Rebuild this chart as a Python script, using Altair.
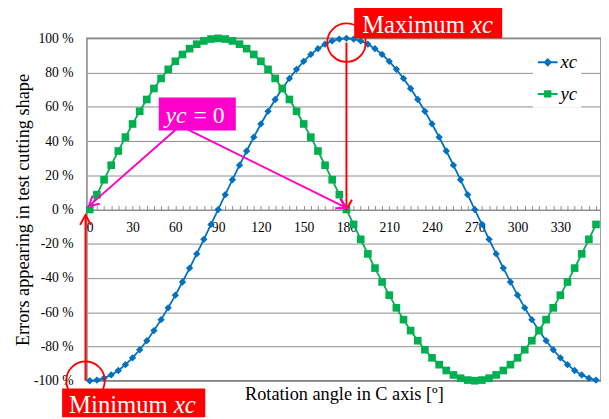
import math
import altair as alt
import pandas as pd

# ---------------- data ----------------
angles = [0, 5, 10, 15, 20, 25, 30, 35, 40, 45, 50, 55, 60, 65, 70, 75, 80, 85,
          90, 95, 100, 105, 110, 115, 120, 125, 130, 135, 140, 145, 150, 155, 160, 165, 170, 175,
          180, 185, 190, 195, 200, 205, 210, 215, 220, 225, 230, 235, 240, 245, 250, 255, 260, 265,
          270, 275, 280, 285, 290, 295, 300, 305, 310, 315, 320, 325, 330, 335, 340, 345, 350, 355]

xc_values = [-100.0, -99.6, -98.5, -96.6, -94.0, -90.6, -86.6, -81.9, -76.6, -70.7, -64.3, -57.4,
             -50.0, -42.3, -34.2, -25.9, -17.4, -8.7,
             0.0, 8.7, 17.4, 25.9, 34.2, 42.3, 50.0, 57.4, 64.3, 70.7, 76.6, 81.9,
             86.6, 90.6, 94.0, 96.6, 98.5, 99.6,
             100.0, 99.6, 98.5, 96.6, 94.0, 90.6, 86.6, 81.9, 76.6, 70.7, 64.3, 57.4,
             50.0, 42.3, 34.2, 25.9, 17.4, 8.7,
             0.0, -8.7, -17.4, -25.9, -34.2, -42.3, -50.0, -57.4, -64.3, -70.7, -76.6, -81.9,
             -86.6, -90.6, -94.0, -96.6, -98.5, -99.6]

yc_values = [0.0, 8.7, 17.4, 25.9, 34.2, 42.3, 50.0, 57.4, 64.3, 70.7, 76.6, 81.9,
             86.6, 90.6, 94.0, 96.6, 98.5, 99.6,
             100.0, 99.6, 98.5, 96.6, 94.0, 90.6, 86.6, 81.9, 76.6, 70.7, 64.3, 57.4,
             50.0, 42.3, 34.2, 25.9, 17.4, 8.7,
             0.0, -8.7, -17.4, -25.9, -34.2, -42.3, -50.0, -57.4, -64.3, -70.7, -76.6, -81.9,
             -86.6, -90.6, -94.0, -96.6, -98.5, -99.6,
             -100.0, -99.6, -98.5, -96.6, -94.0, -90.6, -86.6, -81.9, -76.6, -70.7, -64.3, -57.4,
             -50.0, -42.3, -34.2, -25.9, -17.4, -8.7]

series_names = ["xc", "yc"]
series_colors = ["#0070C0", "#00B050"]

y_ticks = [-100, -80, -60, -40, -20, 0, 20, 40, 60, 80, 100]
x_label_ticks = [0, 30, 60, 90, 120, 150, 180, 210, 240, 270, 300, 330]

# annotation boxes (data coordinates)
box_x1 = [185.4, -19.4, 48.4]
box_x2 = [289.2, 81.0, 102.4]
box_y1 = [100.0, -104.6, 46.2]
box_y2 = [117.9, -121.3, 65.4]
RED = "#FF0000"
MAGENTA = "#FF00CC"
box_colors = [RED, RED, MAGENTA]

# annotation texts
reg_text = ["Maximum", "Minimum", "= 0"]
reg_x = [191.0, -14.5, 72.7]
reg_y = [103.2, -119.0, 50.3]
ital_text = ["xc", "xc", "yc"]
ital_x = [267.4, 59.0, 53.1]
ital_y = [103.2, -119.0, 50.3]
text_sizes = [25, 25, 24]

# arrows
arr_x1 = [180.0, -3.0, 60.4, 68.5]
arr_y1 = [97.5, -100.0, 46.8, 46.8]
arr_x2 = [180.0, -3.0, -0.7, 180.0]
arr_y2 = [0.0, -3.2, 2.0, 1.0]
arr_colors = [RED, RED, MAGENTA, MAGENTA]

circle_x = [180.0, -3.0]
circle_y = [97.5, -100.0]

# ---------------- layout ----------------
X_MIN, X_MAX = -2.0, 358.5
W, H = 521, 347
kx = W / (X_MAX - X_MIN)
ky = H / 200.0
zero_px = H / 2.0
FONT = "Liberation Serif"
GRID = "#8c8c8c"

n = len(angles)
df = pd.DataFrame({
    "angle": angles + angles,
    "value": xc_values + yc_values,
    "series": ["xc"] * n + ["yc"] * n,
})

boxes = pd.DataFrame({"x1": box_x1, "x2": box_x2, "y1": box_y1, "y2": box_y2, "color": box_colors})
reg_df = pd.DataFrame({"x": reg_x, "y": reg_y, "label": reg_text, "size": text_sizes})
ital_df = pd.DataFrame({"x": ital_x, "y": ital_y, "label": ital_text, "size": text_sizes})
arr_df = pd.DataFrame({"x1": arr_x1, "y1": arr_y1, "x2": arr_x2, "y2": arr_y2, "color": arr_colors})
heads = []
for a, b, c, d in zip(arr_x1, arr_y1, arr_x2, arr_y2):
    dx = (c - a) * kx
    dy = -(d - b) * ky
    heads.append(math.degrees(math.atan2(dx, -dy)) % 360)
arr_df["angle"] = heads
circ_df = pd.DataFrame({"x": circle_x, "y": circle_y})
legend_df = pd.DataFrame({"series": series_names})

xscale = alt.Scale(domain=[X_MIN, X_MAX], nice=False, zero=False)
yscale = alt.Scale(domain=[-100, 100], nice=False, zero=False)

axis_bottom = alt.Axis(
    orient="bottom", offset=-zero_px, values=x_label_ticks, ticks=False, domain=False, grid=False,
    labelFont=FONT, labelFontSize=13.8, labelColor="black", labelPadding=11, labelAngle=0,
    title="Rotation angle in C axis [º]", titleFont=FONT, titleFontSize=18.5,
    titleFontWeight="normal", titleColor="black", titleY=186.5, titleBaseline="middle",
)
axis_top = alt.Axis(
    orient="top", offset=-zero_px, values=angles, ticks=True, tickSize=4, tickColor=GRID,
    tickWidth=1, labels=False, domain=True, domainColor=GRID, domainWidth=1, grid=False, title=None,
)
axis_y = alt.Axis(
    orient="left", values=y_ticks, labelExpr="datum.value + ' %'", ticks=False, domain=False, grid=True,
    gridColor=GRID, gridWidth=1, labelFont=FONT, labelFontSize=13.8, labelColor="black",
    labelPadding=14, title="Errors appearing in test cutting shape", titleFont=FONT,
    titleFontSize=18.5, titleFontWeight="normal", titleColor="black", titleX=-65.5,
    titleY=zero_px, titleBaseline="middle",
)


def Y(field):
    return alt.Y(field, scale=yscale, axis=axis_y)


base = alt.Chart(df)

line_xc = base.transform_filter("datum.series == 'xc'").mark_line(
    color=series_colors[0], strokeWidth=1.8).encode(
    x=alt.X("angle:Q", scale=xscale, axis=axis_bottom),
    y=Y("value:Q"),
)
line_yc = base.transform_filter("datum.series == 'yc'").mark_line(
    color=series_colors[1], strokeWidth=1.8).encode(
    x=alt.X("angle:Q", scale=xscale, axis=axis_top),
    y=Y("value:Q"),
)
pts_xc = base.transform_filter("datum.series == 'xc'").mark_point(
    shape="diamond", filled=True, size=55, color=series_colors[0], opacity=1).encode(
    x=alt.X("angle:Q", scale=xscale, axis=None),
    y=Y("value:Q"),
)
pts_yc = base.transform_filter("datum.series == 'yc'").mark_point(
    shape="square", filled=True, size=60, color=series_colors[1], opacity=1).encode(
    x=alt.X("angle:Q", scale=xscale, axis=None),
    y=Y("value:Q"),
)

box_layer = alt.Chart(boxes).mark_rect().encode(
    x=alt.X("x1:Q", scale=xscale, axis=None), x2="x2:Q",
    y=Y("y1:Q"), y2="y2:Q",
    color=alt.Color("color:N", scale=None),
)
reg_layer = alt.Chart(reg_df).mark_text(
    align="left", baseline="alphabetic", font=FONT, color="white").encode(
    x=alt.X("x:Q", scale=xscale, axis=None),
    y=Y("y:Q"),
    text="label:N", size=alt.Size("size:Q", scale=None),
)
ital_layer = alt.Chart(ital_df).mark_text(
    align="left", baseline="alphabetic", font=FONT, fontStyle="italic", color="white").encode(
    x=alt.X("x:Q", scale=xscale, axis=None),
    y=Y("y:Q"),
    text="label:N", size=alt.Size("size:Q", scale=None),
)
arrow_lines = alt.Chart(arr_df).mark_rule(strokeWidth=2).encode(
    x=alt.X("x1:Q", scale=xscale, axis=None), x2="x2:Q",
    y=Y("y1:Q"), y2="y2:Q",
    color=alt.Color("color:N", scale=None),
)
arrow_heads = alt.Chart(arr_df).mark_point(
    shape="M-0.55,1L0,0L0.55,1", filled=False, size=400, strokeWidth=2, opacity=1).encode(
    x=alt.X("x2:Q", scale=xscale, axis=None),
    y=Y("y2:Q"),
    angle=alt.Angle("angle:Q", scale=None),
    color=alt.Color("color:N", scale=None),
)
circles = alt.Chart(circ_df).mark_point(
    shape="circle", filled=False, size=1521, strokeWidth=1.8, color=RED, opacity=1).encode(
    x=alt.X("x:Q", scale=xscale, axis=None),
    y=Y("y:Q"),
)

leg = alt.Legend(
    orient="none", legendX=452, legendY=9.3, title=None, labelFont=FONT, labelFontSize=19,
    labelFontStyle="italic", labelColor="black", symbolSize=400, symbolStrokeWidth=2,
    rowPadding=11, padding=4, fillColor="white", labelOffset=2,
)
sym_paths = [
    "M-1,0L1,0M0,-0.3L0.3,0L0,0.3L-0.3,0Z",
    "M-1,0L1,0M-0.27,-0.27L0.27,-0.27L0.27,0.27L-0.27,0.27Z",
]
legend_layer = alt.Chart(legend_df).transform_filter("false").mark_point(
    filled=True, opacity=1, strokeWidth=2).encode(
    color=alt.Color("series:N", scale=alt.Scale(domain=series_names, range=series_colors), legend=leg),
    stroke=alt.Stroke("series:N", scale=alt.Scale(domain=series_names, range=series_colors), legend=leg),
    shape=alt.Shape("series:N", scale=alt.Scale(domain=series_names, range=sym_paths), legend=leg),
)

chart = alt.layer(
    line_xc, line_yc, pts_xc, pts_yc, arrow_lines, arrow_heads, circles,
    box_layer, reg_layer, ital_layer, legend_layer,
).properties(
    width=W, height=H,
    autosize=alt.AutoSizeParams(type="none"),
    padding={"left": 80, "top": 28, "right": 0, "bottom": 36},
    background="white",
).configure_view(stroke="#808080", strokeWidth=1.5)

chart.save("out.html", embed_options={"renderer": "svg", "actions": False})
